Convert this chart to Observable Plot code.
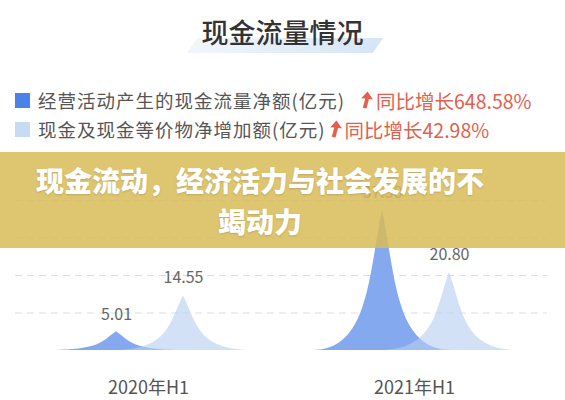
<!DOCTYPE html>
<html>
<head>
<meta charset="utf-8">
<script src="https://cdn.jsdelivr.net/npm/d3@7"></script>
<script src="https://cdn.jsdelivr.net/npm/@observablehq/plot@0.6"></script>
<style>
  html, body { margin: 0; padding: 0; background: #fff; }
  body { font-family: "Noto Sans CJK SC", "Noto Sans", sans-serif; }
  #wrap { position: relative; width: 565px; height: 400px; overflow: hidden; background: #fff; }
  .title-bg { position: absolute; left: 192px; top: 38px; width: 186px; height: 15px;
    transform: skewX(-35deg);
    background: linear-gradient(to right, rgba(214,230,247,0.35), #d6e5f6); }
  .title { position: absolute; left: 0; top: 12px; width: 565px; text-align: center;
    font-size: 27px; line-height: 40px; font-weight: 500; color: #333; }
  .legend-row { position: absolute; left: 15px; height: 26px; display: flex; align-items: center;
    white-space: nowrap; }
  .swatch { width: 15px; height: 15px; margin-right: 8px; }
  .lab { font-size: 18.5px; color: #555; letter-spacing: 1px; }
  .arrow { width: 14px; height: 18px; margin: 0 3px 0 0; }
  .growth { font-size: 19.5px; color: #e2604d; }
  #chart { position: absolute; left: 0; top: 145px; }
  .banner { position: absolute; left: 0; top: 152px; width: 565px; height: 96px;
    background: rgba(217,187,89,0.86); }
  .banner-text { position: absolute; left: 29px; top: 8px; width: 462px; text-align: center;
    color: #fff; font-size: 28px; font-weight: 900; line-height: 41px;
    text-shadow: 0 1px 2px rgba(0,0,0,0.15); }
</style>
</head>
<body>
<div id="wrap">
  <div class="title-bg"></div>
  <div class="title" id="title"></div>
  <div id="legend"></div>
  <div id="chart"></div>
  <div class="banner"><div class="banner-text" id="banner"></div></div>
</div>
<script>
// ---- data ----
const titleText = "现金流量情况";
const bannerText = "现金流动，经济活力与社会发展的不竭动力";
const periods = ["2020年H1", "2021年H1"];
const seriesNames = ["经营活动产生的现金流量净额(亿元)", "现金及现金等价物净增加额(亿元)"];
const growthLabels = ["同比增长648.58%", "同比增长42.98%"];
const operatingCF = [5.01, 37.50];
const cashIncrease = [14.55, 20.80];
const gridTicks = [10, 20, 30, 40];
const seriesColors = ["#84a9ef", "#b7cff0"];

// ---- header / legend ----
document.getElementById("title").textContent = titleText;
document.getElementById("banner").textContent = bannerText;
const legendTops = [87, 116];
const legendGaps = [14, 2];
const legend = document.getElementById("legend");
const swatchColors = ["#4a82e8", "#c6dbf4"];
seriesNames.forEach((name, i) => {
  const row = document.createElement("div");
  row.className = "legend-row";
  row.style.top = legendTops[i] + "px";
  row.innerHTML =
    `<div class="swatch" style="background:${swatchColors[i]}"></div>` +
    `<span class="lab">${name}</span>` +
    `<svg class="arrow" style="margin-left:${legendGaps[i]}px" viewBox="0 0 14 18"><path d="M8.5,0.5 L14,8.5 L10,8 L7.5,17.5 L3.8,16.8 L6.3,7.6 L2.2,7.2 Z" fill="#e2604d"/></svg>` +
    `<span class="growth">${growthLabels[i]}</span>`;
  legend.appendChild(row);
});

// ---- chart ----
const rows = [];
periods.forEach((p, i) => {
  rows.push({period: p, series: "op", value: operatingCF[i]});
  rows.push({period: p, series: "cash", value: cashIncrease[i]});
});
const offset = {op: -32, cash: 35};
const opRows = rows.filter(d => d.series === "op");
const cashRows = rows.filter(d => d.series === "cash");

const plot = Plot.plot({
  width: 565,
  height: 255,
  marginLeft: 15,
  marginRight: 18,
  marginTop: 55,
  marginBottom: 50,
  x: {domain: periods, padding: 0, axis: null},
  y: {domain: [0, 40], axis: null},
  style: {fontFamily: '"Noto Sans CJK SC", "Noto Sans", sans-serif', color: "#555", background: "transparent", overflow: "visible"},
  marks: [
    Plot.ruleY(gridTicks, {stroke: "#dedede", strokeDasharray: "7,5", strokeWidth: 1}),
    Plot.barY(opRows, {x: "period", y: "value", fill: seriesColors[0], dx: offset.op, insetLeft: 63, insetRight: 63}),
    Plot.barY(cashRows, {x: "period", y: "value", fill: seriesColors[1], fillOpacity: 0.62, dx: offset.cash, insetLeft: 63, insetRight: 63}),
    Plot.text(opRows, {x: "period", y: "value", text: d => d.value.toFixed(2), dx: offset.op, dy: -17, fontSize: 16, fill: "#666"}),
    Plot.text(cashRows, {x: "period", y: "value", text: d => d.value.toFixed(2), dx: offset.cash, dy: -18, fontSize: 16, fill: "#666"}),
    Plot.axisX({tickSize: 0, tickPadding: 31, fontSize: 18, label: null, fill: "#555"})
  ]
});

// reshape each bar rect into a concave spike
plot.querySelectorAll('g[aria-label="bar"] rect').forEach(r => {
  const x = +r.getAttribute("x"), y = +r.getAttribute("y");
  const w = +r.getAttribute("width"), h = +r.getAttribute("height");
  const b = y + h, xc = x + w / 2, m = y + h * 0.5;
  const p = document.createElementNS("http://www.w3.org/2000/svg", "path");
  p.setAttribute("d",
    `M${x},${b}C${x + 0.4 * w},${b} ${x + 0.4 * w},${m} ${xc},${y}` +
    `C${x + 0.6 * w},${m} ${x + 0.6 * w},${b} ${x + w},${b}Z`);
  for (const a of r.attributes) {
    if (!["x", "y", "width", "height"].includes(a.name)) p.setAttribute(a.name, a.value);
  }
  r.replaceWith(p);
});

document.getElementById("chart").appendChild(plot);
</script>
</body>
</html>
